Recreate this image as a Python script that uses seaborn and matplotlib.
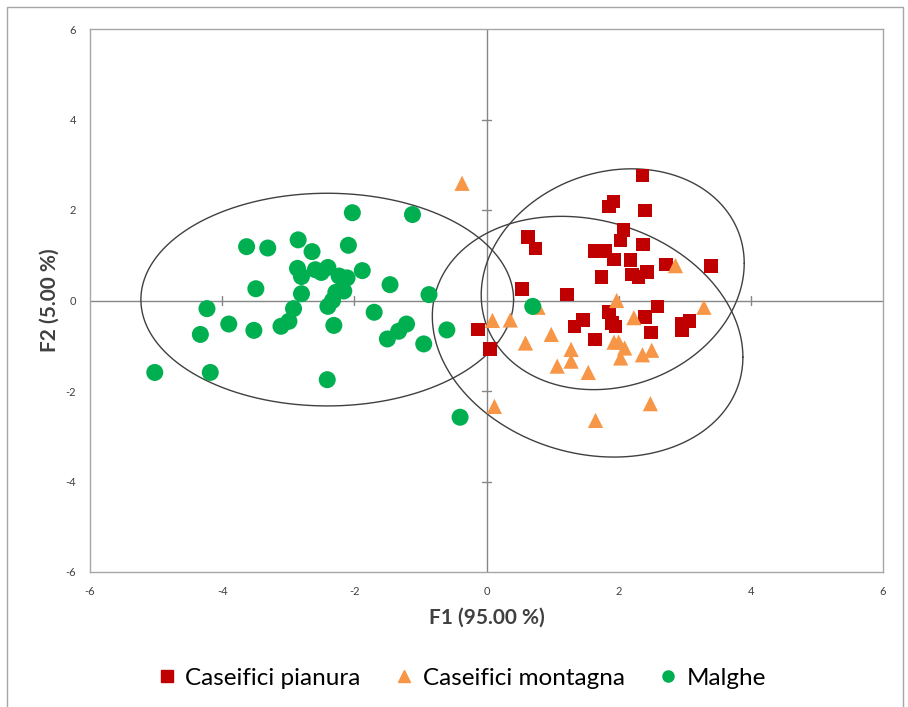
import numpy as np
import pandas as pd
import matplotlib.pyplot as plt
import seaborn as sns
from matplotlib.lines import Line2D
from matplotlib.patches import Rectangle

# Scores (F1, F2)
pianura_f1 = [2.36, 1.92, 1.85, 2.40, 2.07, 2.03, 0.63, 0.74, 1.64, 1.80, 2.37, 1.93,
              2.18, 2.72, 3.40, 2.43, 2.20, 2.30, 1.74, 0.54, 1.22, 2.59, 1.85, 2.40,
              1.46, 1.33, 1.90, 1.95, 3.07, 2.95, 2.96, 2.49, 1.64, -0.13, 0.05]
pianura_f2 = [2.76, 2.19, 2.08, 1.99, 1.56, 1.33, 1.40, 1.15, 1.09, 1.09, 1.24, 0.91,
              0.89, 0.80, 0.76, 0.63, 0.57, 0.52, 0.52, 0.25, 0.13, -0.13, -0.26, -0.37,
              -0.43, -0.57, -0.50, -0.57, -0.45, -0.52, -0.66, -0.71, -0.86, -0.64, -1.07]

montagna_f1 = [-0.37, 2.86, 1.97, 3.29, 0.78, 0.09, 0.36, 2.23, 0.98, 0.59, 1.93, 2.00,
               2.09, 2.50, 2.36, 2.03, 1.28, 1.28, 1.07, 1.54, 0.12, 2.48, 1.65]
montagna_f2 = [2.59, 0.77, 0.00, -0.15, -0.15, -0.44, -0.43, -0.38, -0.75, -0.94, -0.92, -0.92,
               -1.05, -1.10, -1.20, -1.27, -1.08, -1.34, -1.45, -1.59, -2.34, -2.28, -2.65]

malghe_f1 = [-2.03, -1.12, -2.85, -3.63, -3.31, -2.09, -2.64, -2.86, -2.80, -2.59, -2.50,
             -2.40, -2.23, -2.11, -1.88, -1.46, -0.87, -3.49, -2.80, -2.28, -2.16, -2.33,
             -2.40, -4.23, -2.92, -1.70, -3.90, -2.99, -3.11, -2.31, -3.52, -4.33, -1.21,
             -1.33, -1.50, -0.95, -0.60, -5.02, -4.18, -2.41, -0.40, 0.70]
malghe_f2 = [1.94, 1.90, 1.34, 1.19, 1.16, 1.22, 1.08, 0.71, 0.53, 0.68, 0.62,
             0.73, 0.54, 0.50, 0.66, 0.35, 0.13, 0.26, 0.15, 0.18, 0.21, 0.00,
             -0.13, -0.18, -0.18, -0.26, -0.52, -0.46, -0.57, -0.55, -0.66, -0.75, -0.52,
             -0.68, -0.85, -0.96, -0.65, -1.59, -1.59, -1.75, -2.58, -0.13]

groups = ['Caseifici pianura', 'Caseifici montagna', 'Malghe']
colors = {'Caseifici pianura': '#C00000', 'Caseifici montagna': '#F79646', 'Malghe': '#00B050'}
markers = {'Caseifici pianura': 's', 'Caseifici montagna': '^', 'Malghe': 'o'}
sizes = {'Caseifici pianura': 95, 'Caseifici montagna': 120, 'Malghe': 150}

# confidence ellipses per group: centre, sd along F1, sd along F2, covariance
ell_centre = [(1.91, 0.47), (1.53, -0.80), (-2.41, 0.02)]
ell_sx = [1.99, 2.35, 2.82]
ell_sy = [2.44, 2.66, 2.35]
ell_cov = [0.70, -1.06, 0.0]

df = pd.concat([
    pd.DataFrame({'F1': pianura_f1, 'F2': pianura_f2, 'gruppo': groups[0]}),
    pd.DataFrame({'F1': montagna_f1, 'F2': montagna_f2, 'gruppo': groups[1]}),
    pd.DataFrame({'F1': malghe_f1, 'F2': malghe_f2, 'gruppo': groups[2]}),
], ignore_index=True)

sns.set_style('white')
plt.rcParams['font.family'] = ['Lato', 'DejaVu Sans']
plt.rcParams['axes.unicode_minus'] = False

fig = plt.figure(figsize=(9.08, 7.07), dpi=100)
ax = fig.add_axes([90 / 908, 1 - 572 / 707, 793 / 908, 543 / 707])

# central axes with small tick marks
ax.axhline(0, color='#868686', lw=1, zorder=1)
ax.axvline(0, color='#868686', lw=1, zorder=1)
for v in [-4, -2, 2, 4]:
    ax.plot([v, v], [-0.11, 0.11], color='#868686', lw=1, zorder=1)
    ax.plot([-0.07, 0.07], [v, v], color='#868686', lw=1, zorder=1)

# ellipses
t = np.linspace(0, 2 * np.pi, 300)
for c, sx, sy, cv in zip(ell_centre, ell_sx, ell_sy, ell_cov):
    L = np.linalg.cholesky(np.array([[sx ** 2, cv], [cv, sy ** 2]]))
    pts = L @ np.vstack([np.cos(t), np.sin(t)])
    ax.plot(c[0] + pts[0], c[1] + pts[1], color='#404040', lw=1, zorder=2)

sns.scatterplot(data=df, x='F1', y='F2', hue='gruppo', style='gruppo', size='gruppo',
                palette=colors, markers=markers, sizes=sizes, linewidth=0,
                legend=False, ax=ax, zorder=3)

ax.set_xlim(-6, 6)
ax.set_ylim(-6, 6)
ax.set_xticks(range(-6, 7, 2))
ax.set_yticks(range(-6, 7, 2))
ax.tick_params(labelsize=8, length=0, pad=10, colors='#404040')
for s in ax.spines.values():
    s.set_color('#A6A6A6')
    s.set_linewidth(1)

ax.set_xlabel('F1 (95.00 %)', fontsize=15, fontweight='bold', color='#404040', labelpad=8)
ax.set_ylabel('F2 (5.00 %)', fontsize=15, fontweight='bold', color='#404040', labelpad=4)

handles = [Line2D([], [], marker=markers[g], color=colors[g], ls='', markersize=8) for g in groups]
fig.legend(handles, groups, loc='center', bbox_to_anchor=(0.507, 1 - 678 / 707), ncol=3,
           frameon=False, fontsize=17.5, handletextpad=0.25, columnspacing=1.3,
           handlelength=1.0, labelcolor='black')

fig.patches.append(Rectangle((7 / 908, -0.02), 896 / 908, 1 - 7 / 707 + 0.02,
                             transform=fig.transFigure, fill=False,
                             edgecolor='#A6A6A6', lw=1))

fig.savefig('out.png', dpi=100)
